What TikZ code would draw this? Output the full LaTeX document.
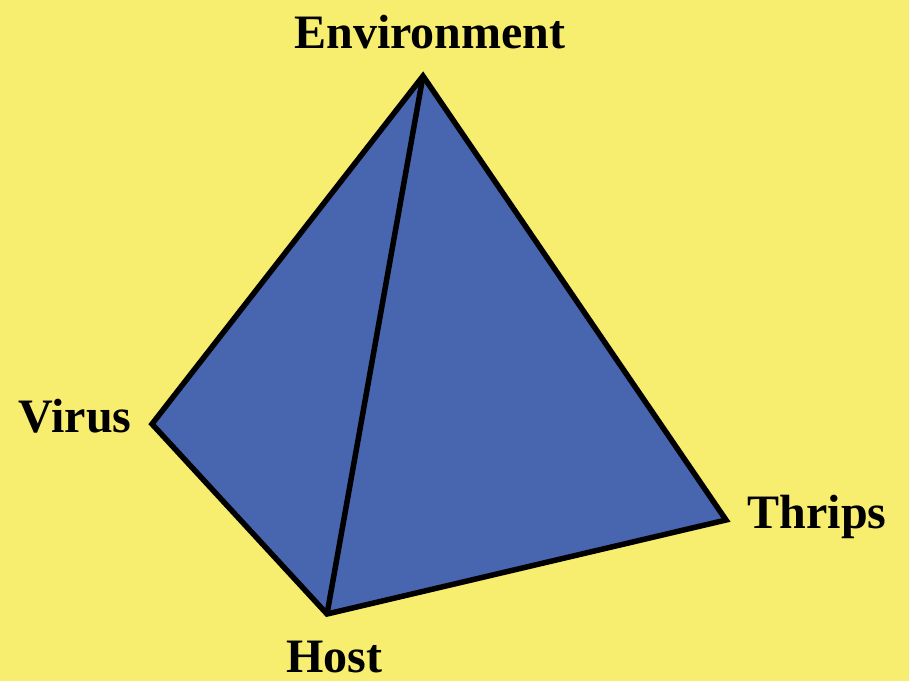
\documentclass[tikz,border=0pt]{standalone}
\usepackage{fontspec}
\setmainfont{Liberation Serif}
\definecolor{bgyellow}{RGB}{247,237,110}
\definecolor{faceblue}{RGB}{72,102,176}
\tikzset{
  vlabel/.style={anchor=base,font=\fontsize{48}{48}\selectfont\bfseries,inner sep=0pt},
  edge/.style={line width=5.5pt,line join=miter,draw=black}
}
\begin{document}
\begin{tikzpicture}[x=1pt,y=-1pt]
\fill[bgyellow] (0,0) rectangle (909,681);
\useasboundingbox (0,0) rectangle (909,681);
% corners of the pyramid
\coordinate (env) at (423,76);
\coordinate (vir) at (152,424);
\coordinate (hos) at (327,614);
\coordinate (thr) at (726,520);
\filldraw[fill=faceblue,edge] (env)--(vir)--(hos)--(thr)--cycle;
\draw[edge] (env)--(hos);
% labels
\node[vlabel] (envlb) at (430,48) {Environment};
\node[vlabel] (virlb) at (75,432) {Virus};
\node[vlabel] (hoslb) at (334,672) {Host};
\node[vlabel] (thrlb) at (817,528) {Thrips};
\end{tikzpicture}
\end{document}
